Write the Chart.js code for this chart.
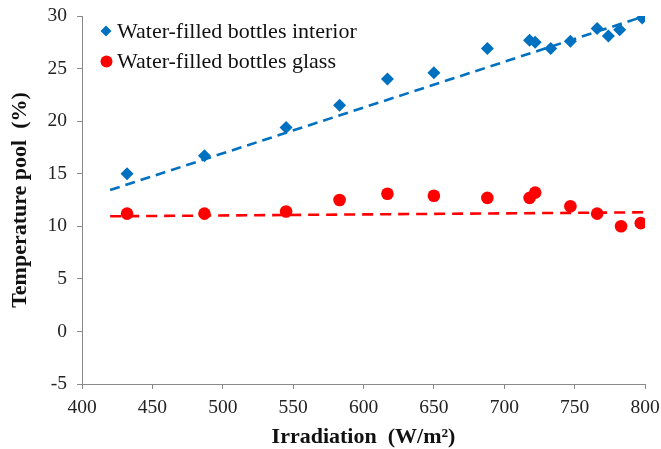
<!DOCTYPE html>
<html>
<head>
<meta charset="utf-8">
<script src="https://cdn.jsdelivr.net/npm/chart.js@4/dist/chart.umd.min.js"></script>
<style>
  html, body { margin: 0; padding: 0; background: #fff; }
  #wrap { position: relative; width: 661px; height: 449px; }
</style>
</head>
<body>
<div id="wrap"><canvas id="c" width="661" height="449"></canvas></div>
<script>
// Irradiation (W/m²) for each measurement
const irradiationInterior = [432, 487, 545, 583, 617, 650, 688, 718, 722, 733, 747, 766, 774, 782, 798];
const tempInterior        = [15.0, 16.7, 19.4, 21.5, 24.0, 24.6, 26.9, 27.7, 27.5, 26.9, 27.6, 28.8, 28.1, 28.7, 29.8];

const irradiationGlass = [432, 487, 545, 583, 617, 650, 688, 718, 722, 747, 766, 783, 797];
const tempGlass        = [11.2, 11.2, 11.4, 12.5, 13.1, 12.9, 12.7, 12.7, 13.2, 11.9, 11.2, 10.0, 10.3];

// Linear trend lines (endpoints of the fitted lines)
const trendX        = [420, 800];
const trendInterior = [13.45, 30.0];
const trendGlass    = [10.95, 11.33];

const seriesNames = ['Water-filled bottles interior', 'Water-filled bottles glass'];
const xTitle = 'Irradiation  (W/m\u00B2)';
const yTitle = 'Temperature pool  (%)';

const BLUE = '#0070C0';
const RED = '#FF0000';
const AXIS = '#8a8a8a';
const SERIF = "'Liberation Serif', 'Times New Roman', serif";

const pts = (xs, ys) => xs.map((x, i) => ({ x: x, y: ys[i] }));

// Legend drawn inside the plot area, top-left
const innerLegend = {
  id: 'innerLegend',
  afterDraw(chart) {
    const ctx = chart.ctx;
    const items = [
      { text: seriesNames[0], color: BLUE, shape: 'diamond', y: 31 },
      { text: seriesNames[1], color: RED, shape: 'circle', y: 61.5 }
    ];
    ctx.save();
    ctx.font = '22px ' + SERIF;
    ctx.textBaseline = 'middle';
    ctx.textAlign = 'left';
    items.forEach(it => {
      ctx.fillStyle = it.color;
      ctx.beginPath();
      if (it.shape === 'diamond') {
        const r = 5.5, cx = 106;
        ctx.moveTo(cx - r, it.y); ctx.lineTo(cx, it.y - r);
        ctx.lineTo(cx + r, it.y); ctx.lineTo(cx, it.y + r);
        ctx.closePath();
      } else {
        ctx.arc(106.5, it.y, 6, 0, Math.PI * 2);
      }
      ctx.fill();
      ctx.fillStyle = '#111';
      ctx.fillText(it.text, 117, it.y + 1);
    });
    ctx.restore();
  }
};

new Chart(document.getElementById('c'), {
  type: 'scatter',
  data: {
    datasets: [
      {
        label: seriesNames[0],
        data: pts(irradiationInterior, tempInterior),
        pointStyle: 'rectRot', pointRadius: 6.5, pointHoverRadius: 6.5,
        backgroundColor: BLUE, borderColor: BLUE, borderWidth: 0,
        order: 3
      },
      {
        label: seriesNames[1],
        data: pts(irradiationGlass, tempGlass),
        pointStyle: 'circle', pointRadius: 6.3, pointHoverRadius: 6.3,
        backgroundColor: RED, borderColor: RED, borderWidth: 0,
        order: 4
      },
      {
        label: 'trend interior',
        data: pts(trendX, trendInterior),
        showLine: true, pointRadius: 0, borderColor: BLUE, borderWidth: 2.6,
        borderDash: [10, 6], fill: false, order: 1
      },
      {
        label: 'trend glass',
        data: pts(trendX, trendGlass),
        showLine: true, pointRadius: 0, borderColor: RED, borderWidth: 2.6,
        borderDash: [11, 7], fill: false, order: 2
      }
    ]
  },
  options: {
    responsive: false,
    animation: false,
    layout: { padding: { top: 16, right: 16, left: 0, bottom: 0 } },
    plugins: { legend: { display: false }, tooltip: { enabled: false } },
    scales: {
      x: {
        type: 'linear', min: 400, max: 800,
        ticks: { stepSize: 50, color: '#222', font: { family: SERIF, size: 19.5 }, padding: 7, maxRotation: 0 },
        grid: { drawOnChartArea: false, drawTicks: true, tickLength: 5, color: AXIS, lineWidth: 1 },
        border: { color: AXIS, width: 1 },
        title: { display: true, text: xTitle, color: '#111', font: { family: SERIF, size: 22, weight: 'bold' }, padding: { top: 0, bottom: -1.5 } },
        afterFit(scale) { scale.height = 65; scale.paddingLeft = 0; scale.paddingRight = 0; }
      },
      y: {
        type: 'linear', min: -5, max: 30,
        ticks: { stepSize: 5, color: '#222', font: { family: SERIF, size: 19.5 }, padding: 10 },
        grid: { drawOnChartArea: false, drawTicks: true, tickLength: 5, color: AXIS, lineWidth: 1 },
        border: { color: AXIS, width: 1 },
        title: { display: true, text: yTitle, color: '#111', font: { family: SERIF, size: 22, weight: 'bold' }, padding: { top: 7, bottom: 0 } },
        afterFit(scale) { scale.width = 82; scale.paddingTop = 0; scale.paddingBottom = 0; }
      }
    }
  },
  plugins: [innerLegend]
});
</script>
</body>
</html>
